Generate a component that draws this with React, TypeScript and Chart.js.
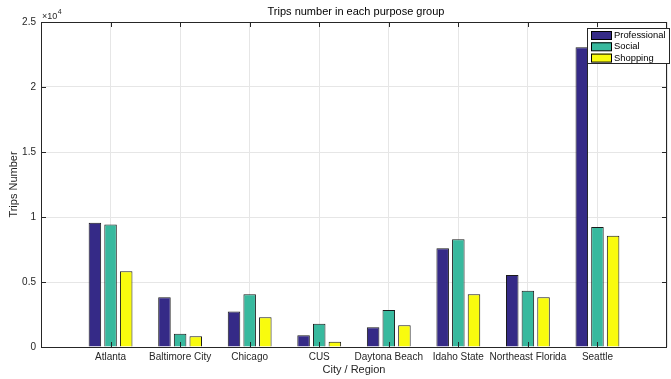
import React, { useEffect, useRef } from 'react';
import { Chart, registerables } from 'chart.js';

Chart.register(...registerables);

const cities = ['Atlanta', 'Baltimore City', 'Chicago', 'CUS', 'Daytona Beach', 'Idaho State', 'Northeast Florida', 'Seattle'];
const professional = [9560, 3820, 2740, 900, 1510, 7590, 5540, 23050];
const social = [9420, 1020, 4050, 1790, 2850, 8280, 4330, 9230];
const shopping = [5820, 820, 2280, 410, 1670, 4050, 3820, 8560];
const yTickValues = [0, 5000, 10000, 15000, 20000, 25000];
const seriesNames = ['Professional', 'Social', 'Shopping'];
const seriesColors = ['#352a87', '#38b99e', '#f9fb0e'];

const FONT = '"Liberation Sans", Arial, Helvetica, sans-serif';
const AXIS = '#262626';

const pad = (arr: number[]) => [null, ...arr, null];

const decor = {
  id: 'decor',
  afterDatasetsDraw(chart: any) {
    const { ctx, chartArea } = chart;
    const { left: L, right: R, top: T, bottom: B } = chartArea;
    const xs = chart.scales.x;
    const ys = chart.scales.y;
    ctx.save();
    ctx.strokeStyle = AXIS;
    ctx.lineWidth = 1;
    ctx.beginPath();
    ctx.rect(Math.round(L) + 0.5, Math.round(T) + 0.5, Math.round(R - L) - 1, Math.round(B - T));
    ctx.stroke();
    ctx.beginPath();
    yTickValues.forEach((v) => {
      const y = Math.round(ys.getPixelForValue(v)) + 0.5;
      ctx.moveTo(L, y); ctx.lineTo(L + 5, y);
      ctx.moveTo(R - 5, y); ctx.lineTo(R, y);
    });
    for (let i = 1; i <= cities.length; i++) {
      const x = Math.round(xs.getPixelForValue(i)) + 0.5;
      ctx.moveTo(x, T); ctx.lineTo(x, T + 5);
      ctx.moveTo(x, B); ctx.lineTo(x, B - 5);
    }
    ctx.stroke();
    ctx.restore();
  },
  afterDraw(chart: any) {
    const { ctx, chartArea } = chart;
    const { left: L, right: R } = chartArea;
    ctx.save();
    ctx.fillStyle = '#000';
    ctx.font = `11px ${FONT}`;
    ctx.textAlign = 'center';
    ctx.textBaseline = 'middle';
    ctx.fillText('Trips number in each purpose group', (L + R) / 2 + 2, 12);
    ctx.fillStyle = AXIS;
    ctx.textAlign = 'left';
    ctx.font = `9px ${FONT}`;
    ctx.fillText('\u00d710', L + 1, 16.5);
    const w = ctx.measureText('\u00d710').width;
    ctx.font = `7px ${FONT}`;
    ctx.fillText('4', L + 1 + w + 0.5, 12.5);
    const bx = 587.5, by = 28.5, bw = 82, bh = 35;
    ctx.fillStyle = '#fff';
    ctx.fillRect(bx, by, bw, bh);
    ctx.strokeStyle = AXIS;
    ctx.lineWidth = 1;
    ctx.strokeRect(bx, by, bw, bh);
    ctx.font = `9.4px ${FONT}`;
    ctx.textBaseline = 'middle';
    seriesNames.forEach((name, i) => {
      const cy = 35 + i * 11.3;
      ctx.fillStyle = seriesColors[i];
      ctx.fillRect(591, cy - 4, 21, 8.5);
      ctx.strokeStyle = '#000';
      ctx.strokeRect(591.5, cy - 4 + 0.5, 20, 8);
      ctx.fillStyle = '#000';
      ctx.fillText(name, 614, cy + 0.5);
    });
    ctx.restore();
  },
};

export default function App() {
  const ref = useRef<HTMLCanvasElement | null>(null);
  useEffect(() => {
    if (!ref.current) return;
    const labels = ['', ...cities, ''];
    const series = [professional, social, shopping];
    const chart = new Chart(ref.current, {
      type: 'bar',
      data: {
        labels,
        datasets: series.map((s, i) => ({
          label: seriesNames[i],
          data: pad(s),
          backgroundColor: seriesColors[i],
          borderColor: '#1a1a1a',
          borderWidth: 1,
          categoryPercentage: 0.675,
          barPercentage: 0.8,
        })),
      },
      options: {
        responsive: false,
        animation: false,
        devicePixelRatio: 1,
        layout: { padding: { top: 22, left: 0, right: 0, bottom: 0 } },
        plugins: {
          legend: { display: false },
          title: { display: false },
          tooltip: { enabled: false },
        },
        scales: {
          x: {
            type: 'category',
            offset: false,
            grid: { color: '#e6e6e6', drawTicks: false, offset: false },
            border: { display: false },
            ticks: {
              autoSkip: false,
              maxRotation: 0,
              padding: 4,
              color: AXIS,
              font: { family: FONT, size: 10 },
            },
            title: {
              display: true,
              text: 'City / Region',
              color: AXIS,
              font: { family: FONT, size: 11 },
              padding: { top: 0, bottom: 2 },
            },
            afterFit: (s: any) => { s.height = 32; },
          },
          y: {
            min: 0,
            max: 25000,
            afterBuildTicks: (s: any) => { s.ticks = yTickValues.map((v) => ({ value: v })); },
            grid: { color: '#e6e6e6', drawTicks: false },
            border: { display: false },
            ticks: {
              padding: 5,
              color: AXIS,
              font: { family: FONT, size: 10 },
              callback: (v: any) => String(Number(v) / 10000),
            },
            title: {
              display: true,
              text: 'Trips Number',
              color: AXIS,
              font: { family: FONT, size: 11 },
              padding: { top: 7, bottom: 0 },
            },
            afterFit: (s: any) => { s.width = 41; },
          },
        },
      },
      plugins: [decor],
    } as any);
    return () => chart.destroy();
  }, []);
  return (
    <div style={{ position: 'absolute', left: 0, top: 0, width: 671, height: 379, background: '#fff' }}>
      <canvas ref={ref} width={671} height={379} style={{ display: 'block', width: 671, height: 379 }} />
    </div>
  );
}
